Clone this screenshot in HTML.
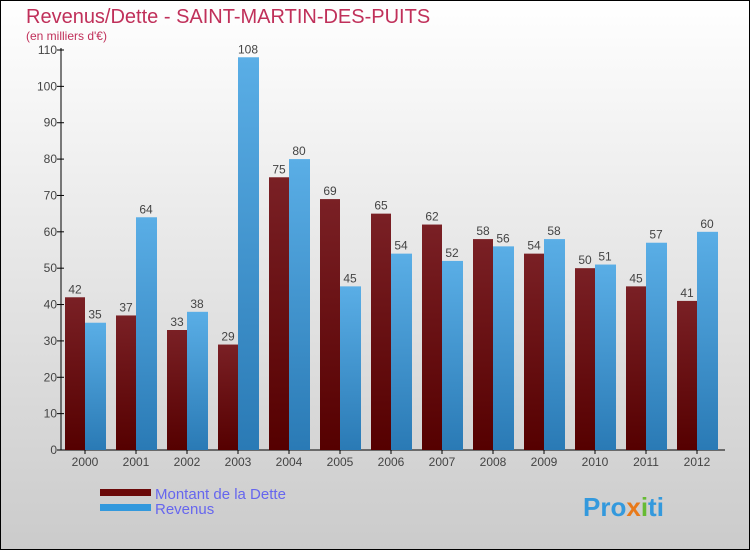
<!DOCTYPE html>
<html><head><meta charset="utf-8"><style>
body{margin:0;}
svg{display:block;font-family:"Liberation Sans",sans-serif;}
</style></head><body>
<svg id="c" width="750" height="550" xmlns="http://www.w3.org/2000/svg">
<defs>
<linearGradient id="bg" x1="0" y1="0" x2="0" y2="1"><stop offset="0" stop-color="#ffffff"/><stop offset="1" stop-color="#cbcbcb"/></linearGradient>
<linearGradient id="gd" x1="0" y1="0" x2="0" y2="1"><stop offset="0" stop-color="#7a2025"/><stop offset="1" stop-color="#550000"/></linearGradient>
<linearGradient id="gr" x1="0" y1="0" x2="0" y2="1"><stop offset="0" stop-color="#5aaee6"/><stop offset="1" stop-color="#2a7ab5"/></linearGradient>
</defs>
<rect x="0.5" y="0.5" width="749" height="549" fill="url(#bg)" stroke="#000"/>
<text x="26" y="23" font-size="20" fill="#c0305a">Revenus/Dette - SAINT-MARTIN-DES-PUITS</text>
<text x="26" y="40" font-size="12" fill="#c0305a">(en milliers d'€)</text>
<g id="axes"></g>
<g id="bars"></g>
<g>
<rect x="100" y="489" width="51" height="7" fill="#6b0a0a"/>
<text x="155" y="499" font-size="15" fill="#6666ee">Montant de la Dette</text>
<rect x="100" y="504" width="51" height="7" fill="#3399dd"/>
<text x="155" y="514" font-size="15" fill="#6666ee">Revenus</text>
</g>
<text x="583" y="516" font-size="26" font-weight="bold" fill="#3399dd">Pro<tspan fill="#e87a1a">x</tspan><tspan fill="#66bb33">i</tspan>ti</text>
</svg>
<script>
const years=["2000","2001","2002","2003","2004","2005","2006","2007","2008","2009","2010","2011","2012"];
const dette=[42,37,33,29,75,69,65,62,58,54,50,45,41];
const revenus=[35,64,38,108,80,45,54,52,56,58,51,57,60];
const yTicks=[0,10,20,30,40,50,60,70,80,90,100,110];
const NS="http://www.w3.org/2000/svg";
const y0=450,yTop=50,maxV=110,x0=61,pitch=51,first=85,bw=20;
const y=v=>y0-(v/maxV)*(y0-yTop);
const xc=i=>first+i*pitch;
function mk(t,a,p){const e=document.createElementNS(NS,t);for(const k in a)e.setAttribute(k,a[k]);p.appendChild(e);return e;}
const ax=document.getElementById('axes'),bg=document.getElementById('bars');
let l=mk('line',{x1:x0,y1:yTop-2,x2:x0,y2:y0,stroke:'#000'},ax);


l=mk('line',{x1:x0-4,y1:y0,x2:725,y2:y0,stroke:'#000'},ax);


yTicks.forEach(v=>{
 const tk=mk('line',{x1:x0-4,y1:y(v),x2:x0+3,y2:y(v),stroke:'#000'},ax);
 
 
 const t=mk('text',{x:x0-4,y:y(v)+4,'font-size':12,fill:'#444','text-anchor':'end'},ax);
 t.textContent=v;
 
 
});
years.forEach((yr,i)=>{
 const c=xc(i);
 const tk=mk('line',{x1:c,y1:y0,x2:c,y2:y0+4,stroke:'#000'},ax);
 
 
 const t=mk('text',{x:c,y:y0+16,'font-size':12,fill:'#444','text-anchor':'middle'},ax);
 t.textContent=yr;
 
 
 const r1=mk('rect',{x:c-bw,y:y(dette[i]),width:bw,height:y0-y(dette[i]),fill:'url(#gd)'},bg);
 
 
 const r2=mk('rect',{x:c,y:y(revenus[i]),width:bw+1,height:y0-y(revenus[i]),fill:'url(#gr)'},bg);
 
 
 const t1=mk('text',{x:c-bw/2,y:y(dette[i])-4,'font-size':12,fill:'#444','text-anchor':'middle'},bg);
 t1.textContent=dette[i];
 
 
 const t2=mk('text',{x:c+bw/2,y:y(revenus[i])-4,'font-size':12,fill:'#444','text-anchor':'middle'},bg);
 t2.textContent=revenus[i];
 
 
});
</script>
</body></html>
